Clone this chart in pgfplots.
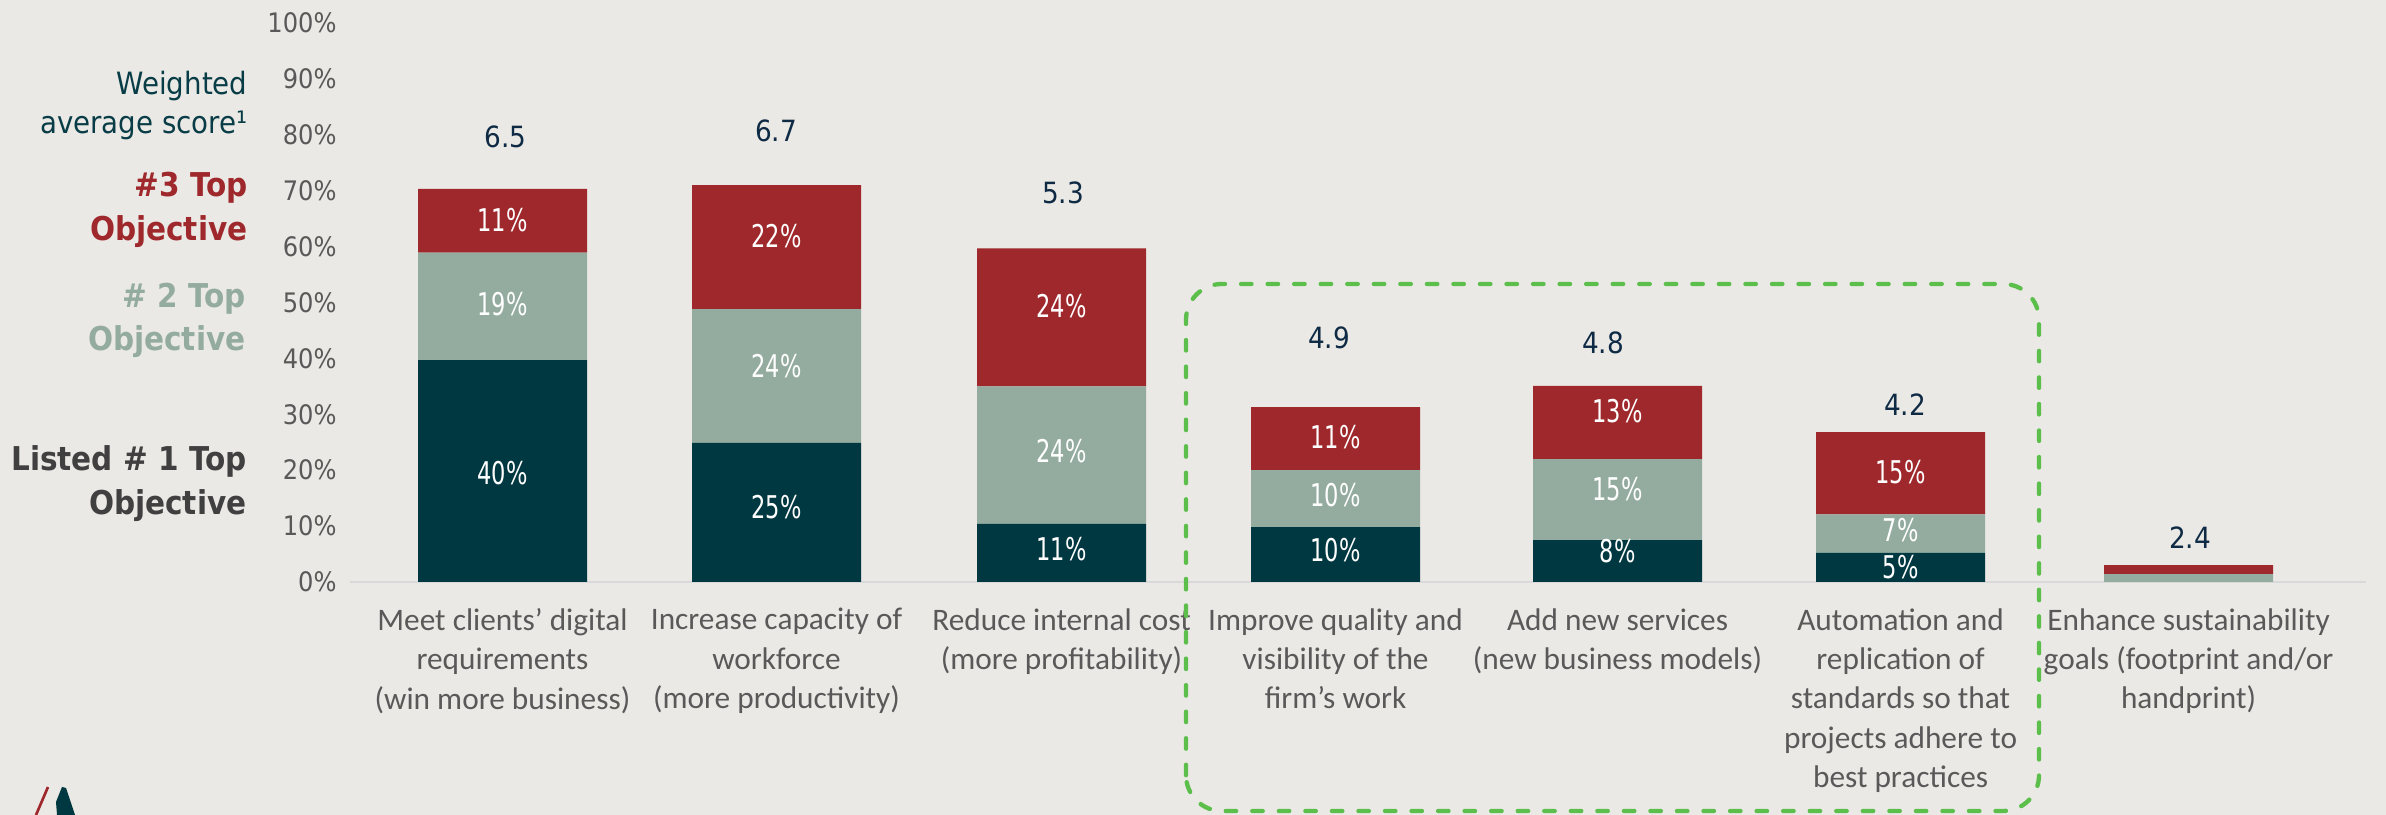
\documentclass[border=0pt]{standalone}
\usepackage{fontspec}
\usepackage{graphicx}
\usepackage{pgfplots}
\pgfplotsset{compat=1.18}
\setmainfont{Carlito}
\newfontfamily\tah{DejaVu Sans Condensed}
\definecolor{bg}{RGB}{235,233,229}
\definecolor{darkteal}{RGB}{0,56,65}
\definecolor{redbar}{RGB}{158,40,43}
\definecolor{sage}{RGB}{147,172,159}
\definecolor{navy}{RGB}{14,42,68}
\definecolor{wtext}{RGB}{8,60,70}
\definecolor{listed}{RGB}{64,64,64}
\definecolor{tickgray}{RGB}{89,89,89}
\definecolor{axisgray}{RGB}{217,217,217}
\definecolor{boxgreen}{RGB}{92,190,75}
\def\u{0.335289pt}
\begin{document}
\begin{tikzpicture}
\path[use as bounding box, fill=bg] (0,0) rectangle ({2386*\u},{815*\u});
% left legend-like labels
\node[anchor=base east, inner sep=0pt, text=wtext, font=\tah\fontsize{10.3}{12}\selectfont] at ({248*\u},{720*\u}) {Weighted};
\node[anchor=base east, inner sep=0pt, text=wtext, font=\tah\fontsize{10.3}{12}\selectfont] at ({248*\u},{681*\u}) {average score¹};
\node[anchor=base east, inner sep=0pt, text=redbar, font=\tah\bfseries\fontsize{11}{13}\selectfont] at ({248*\u},{618*\u}) {\#3 Top};
\node[anchor=base east, inner sep=0pt, text=redbar, font=\tah\bfseries\fontsize{11}{13}\selectfont] at ({248*\u},{574*\u}) {Objective};
\node[anchor=base east, inner sep=0pt, text=sage, font=\tah\bfseries\fontsize{11}{13}\selectfont] at ({246*\u},{507*\u}) {\# 2 Top};
\node[anchor=base east, inner sep=0pt, text=sage, font=\tah\bfseries\fontsize{11}{13}\selectfont] at ({246*\u},{464*\u}) {Objective};
\node[anchor=base east, inner sep=0pt, text=listed, font=\tah\bfseries\fontsize{11}{13}\selectfont] at ({247*\u},{344*\u}) {Listed \# 1 Top};
\node[anchor=base east, inner sep=0pt, text=listed, font=\tah\bfseries\fontsize{11}{13}\selectfont] at ({247*\u},{300*\u}) {Objective};
% logo fragment
\draw[redbar, line width=0.9pt] ({48*\u},{28*\u}) -- ({36*\u},0);
\fill[darkteal] ({62*\u},{28*\u}) -- ({66*\u},{27*\u}) -- ({75*\u},0) -- ({57*\u},0) -- ({56*\u},{13*\u}) -- cycle;
\begin{axis}[
  at={(117.35pt,78.12pt)}, anchor=south west,
  scale only axis, width=675.94pt, height=187.43pt,
  xmin=350, xmax=2366, ymin=0, ymax=100,
  ybar stacked, bar width=56.66pt,
  axis x line*=bottom, axis y line*=left,
  x axis line style={draw=axisgray, line width=0.6pt},
  y axis line style={draw=none},
  major tick length=0pt,
  xtick={502.5,776.5,1061.5,1335.5,1617.5,1900.5,2188.5},
  xticklabels={{Meet clients’ digital\\requirements\\(win more business)},
    {Increase capacity of\\workforce\\(more productivity)},
    {Reduce internal cost\\(more profitability)},
    {Improve quality and\\visibility of the\\firm’s work},
    {Add new services\\(new business models)},
    {Automation and\\replication of\\standards so that\\projects adhere to\\best practices},
    {Enhance sustainability\\goals (footprint and/or\\handprint)}},
  xticklabel style={align=center, font=\fontsize{10.5}{13.2}\selectfont, text=tickgray, anchor=north, yshift=-5.3pt},
  ytick={0,10,20,30,40,50,60,70,80,90,100},
  yticklabels={0\%,10\%,20\%,30\%,40\%,50\%,60\%,70\%,80\%,90\%,100\%},
  yticklabel style={font=\tah\fontsize{9}{10}\selectfont, text=tickgray, xshift=-1pt},
  clip=false,
]
\addplot[fill=darkteal, draw=none] coordinates {(502.5,39.7) (776.5,24.9) (1061.5,10.4) (1335.5,9.8) (1617.5,7.5) (1900.5,5.2) (2188.5,0)};
\addplot[fill=sage, draw=none] coordinates {(502.5,19.2) (776.5,23.9) (1061.5,24.6) (1335.5,10.2) (1617.5,14.5) (1900.5,6.9) (2188.5,1.4)};
\addplot[fill=redbar, draw=none] coordinates {(502.5,11.4) (776.5,22.2) (1061.5,24.7) (1335.5,11.3) (1617.5,13.1) (1900.5,14.7) (2188.5,1.6)};
\end{axis}
\begin{axis}[
  at={(117.35pt,78.12pt)}, anchor=south west,
  scale only axis, width=675.94pt, height=187.43pt,
  xmin=350, xmax=2366, ymin=0, ymax=100,
  hide axis, clip=false,
]
\addplot[only marks, mark=*, mark size=0pt, mark options={draw=none,fill=none},
  point meta=explicit symbolic,
  nodes near coords={\scalebox{0.8}[1]{\pgfplotspointmeta\%}},
  every node near coord/.append style={anchor=center, text=white, inner sep=0pt, font=\tah\fontsize{10.5}{12}\selectfont}]
  table[meta=l] {
x y l
502.5 64.8 11
502.5 49.7 19
502.5 19.5 40
776.5 61.8 22
776.5 38.7 24
776.5 13.4 25
1061.5 49.4 24
1061.5 23.5 24
1061.5 5.8 11
1335.5 26.0 11
1335.5 15.6 10
1335.5 5.7 10
1617.5 30.6 13
1617.5 16.7 15
1617.5 5.5 8
1900.5 19.7 15
1900.5 9.2 7
1900.5 2.7 5
};
\addplot[only marks, mark=*, mark size=0pt, mark options={draw=none,fill=none},
  point meta=explicit symbolic,
  nodes near coords={\pgfplotspointmeta},
  every node near coord/.append style={anchor=center, text=navy, inner sep=0pt, font=\tah\fontsize{9.8}{12}\selectfont}]
  table[meta=l] {
x y l
505.7 79.7 6.5
776 80.7 6.7
1063 69.6 5.3
1329 43.6 4.9
1603 42.8 4.8
1905 31.8 4.2
2190 8.0 2.4
};
\end{axis}
\draw[boxgreen, line width=1.45pt, dash pattern=on 3.5pt off 5.4pt, line cap=round, rounded corners=12pt] ({1186*\u},{4*\u}) rectangle ({2039*\u},{531*\u});
\end{tikzpicture}
\end{document}
